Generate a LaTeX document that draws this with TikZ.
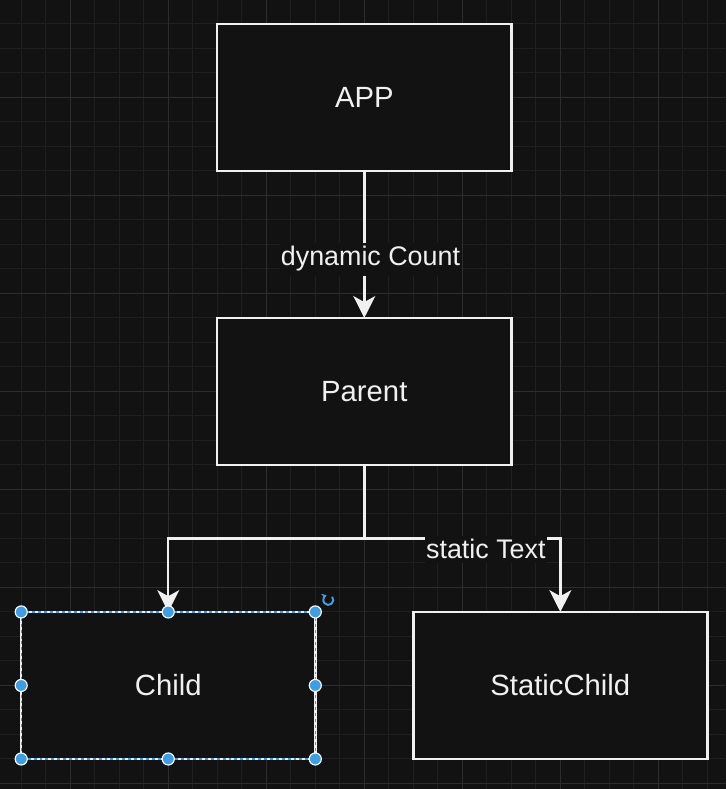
\documentclass[tikz,border=0pt]{standalone}
\usepackage{fontspec}
\setmainfont{Liberation Sans}
\usetikzlibrary{positioning,arrows.meta}

\definecolor{bgdark}{HTML}{121212}
\definecolor{gridminor}{HTML}{1F1F1F}
\definecolor{gridmajor}{HTML}{2D2D2D}
\definecolor{edgewhite}{HTML}{F0F0F0}
\definecolor{selblue}{HTML}{3C9EE6}

\begin{document}
\begin{tikzpicture}[x=0.025cm, y=-0.025cm,
    block/.style={draw=edgewhite, fill=bgdark, line width=1.74pt, outer sep=0pt,
      minimum width=7.35cm, minimum height=3.675cm, text=edgewhite,
      font=\fontsize{20.8}{25}\selectfont},
    lbl/.style={fill=bgdark, text=edgewhite, inner xsep=1pt, inner ysep=2.8pt,
      font=\fontsize{19.1}{23}\selectfont},
    link/.style={draw=edgewhite, line width=1.74pt,
      -{Stealth[length=15.5pt, width=15.6pt, inset=4.3pt]}},
    handle/.style={circle, fill=selblue, draw=white, line width=0.8pt,
      inner sep=0pt, minimum size=8.6pt}]

    % Background and grid
    \useasboundingbox[fill=bgdark] (0,0) rectangle (726,789);
    \foreach \gx in {-27.7,-3.2,...,726} \draw[gridminor, line width=0.7pt] (\gx,0) -- (\gx,789);
    \foreach \gy in {-0.7,23.8,...,789} \draw[gridminor, line width=0.7pt] (0,\gy) -- (726,\gy);
    \foreach \gx in {-27.7,70.3,...,726} \draw[gridmajor, line width=0.7pt] (\gx,0) -- (\gx,789);
    \foreach \gy in {-0.7,97.3,...,789} \draw[gridmajor, line width=0.7pt] (0,\gy) -- (726,\gy);

    % Nodes
    \node[block] (app) at (364.3,97.3) {APP};
    \node[block, below=3.675cm of app] (parent) {Parent};
    \node[block, below=3.675cm of parent, xshift=-4.9cm] (child) {Child};
    \node[block, below=3.675cm of parent, xshift=4.9cm] (staticchild) {StaticChild};
    \coordinate[below=1.8375cm of parent] (split);

    % Arrows
    \draw[link] (app) -- node[lbl, pos=0.6, xshift=4.4pt] (dyncount) {dynamic Count} (parent);
    \draw[link] (parent) -- (split) -| (child);
    \draw[link] (split) -| node[lbl, pos=0.31, yshift=-7.8pt] (stattext) {static Text} (staticchild);

    % Selection on Child
    \draw[selblue, line width=0.8pt, dash pattern=on 2.1pt off 2.1pt]
      (child.north west) rectangle (child.south east);
    \foreach \a/\n in {north west/nw, north/n, north east/ne, west/w, east/e,
                       south west/sw, south/s, south east/se}
      \node[handle] (hdl\n) at (child.\a) {};
    \coordinate (rot) at ([shift={(13,-12)}]child.north east);
    \draw[selblue, line width=1.4pt, -{Stealth[length=3.4pt, width=4.6pt]}]
      (rot) ++(-40:5) arc[start angle=-40, end angle=250, radius=5];
\end{tikzpicture}
\end{document}
